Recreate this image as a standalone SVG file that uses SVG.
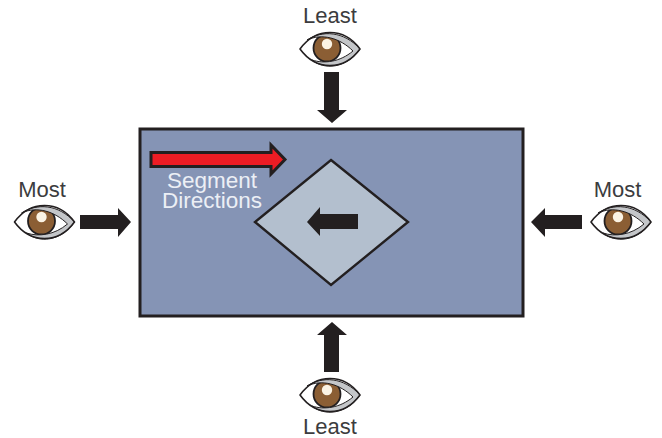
<svg xmlns="http://www.w3.org/2000/svg" width="662" height="438" viewBox="0 0 662 438">
  <style>
    text { font-family: "Liberation Sans", Arial, sans-serif; font-size: 22px; text-anchor: middle; fill: #3c3c3e; }
    text.inner { fill: #eceff5; font-size: 22.500px; }
    .arrow { fill: #231f20; stroke: none; }
    .lid { fill: none; stroke: #231f20; stroke-width: 1.6; stroke-linejoin: round; }
  </style>
  <defs>
    <clipPath id="eyeClip"><path d="M-30,0 C-14,-22 14,-22 30,0 C14,22 -14,22 -30,0 Z"/></clipPath>
    <g id="eye">
      <path d="M-30,0 C-14,-22 14,-22 30,0 C14,22 -14,22 -30,0 Z" fill="#ffffff"/>
      <g clip-path="url(#eyeClip)">
        <circle cx="-3" cy="-1" r="13.500" fill="#8b5e34" stroke="#231f20" stroke-width="1.800"/>
        <circle cx="-3" cy="-5" r="5.200" fill="#fbf3e4"/>
      </g>
      <path d="M-23,-9 C-8,-19 14,-18 30,0 C16,20 -6,21 -18,11 C-6,15 10,13 23,2 C10,-11 -8,-16 -23,-9 Z" fill="#c4c6c9" stroke="#231f20" stroke-width="1" stroke-linejoin="round"/>
      <path class="lid" d="M-30,0 C-14,-22 14,-22 30,0 C14,22 -14,22 -30,0 Z"/>
    </g>
  </defs>

  <g id="field">
    <rect x="140" y="129" width="383" height="187" fill="#8594b5" stroke="#231f20" stroke-width="3"/>
  </g>
  <g id="segment-diamond">
    <polygon points="331,160 408,222 331,285 255,222" fill="#b3bfce" stroke="#231f20" stroke-width="2.400" stroke-linejoin="miter"/>
    <polygon class="arrow" points="307,222 320,207 320,214 358,214 358,229 320,229 320,236"/>
  </g>
  <g id="segment-directions">
    <polygon points="151,152.500 271,152.500 271,145 285,159.500 271,174 271,166.500 151,166.500" fill="#ed1c24" stroke="#231f20" stroke-width="3"/>
    <text class="inner" x="212" y="188">Segment</text>
    <text class="inner" x="212" y="208">Directions</text>
  </g>

  <g id="connectors">
    <polygon class="arrow" points="324,72 339,72 339,110 347,110 332,123 317,110 324,110"/>
    <polygon class="arrow" points="324,372 339,372 339,335 347,335 332,322 317,335 324,335"/>
    <polygon class="arrow" points="80,215 118,215 118,208 131,222 118,237 118,229 80,229"/>
    <polygon class="arrow" points="582,215 545,215 545,208 531,222 545,237 545,229 582,229"/>
  </g>

  <g id="viewer-top">
    <text x="330" y="23">Least</text>
    <use href="#eye" x="330" y="49"/>
  </g>
  <g id="viewer-bottom">
    <text x="330" y="434">Least</text>
    <use href="#eye" x="330" y="395"/>
  </g>
  <g id="viewer-left">
    <text x="42" y="197">Most</text>
    <use href="#eye" x="44.500" y="222"/>
  </g>
  <g id="viewer-right">
    <text x="617.500" y="197">Most</text>
    <use href="#eye" x="621" y="222"/>
  </g>
</svg>
